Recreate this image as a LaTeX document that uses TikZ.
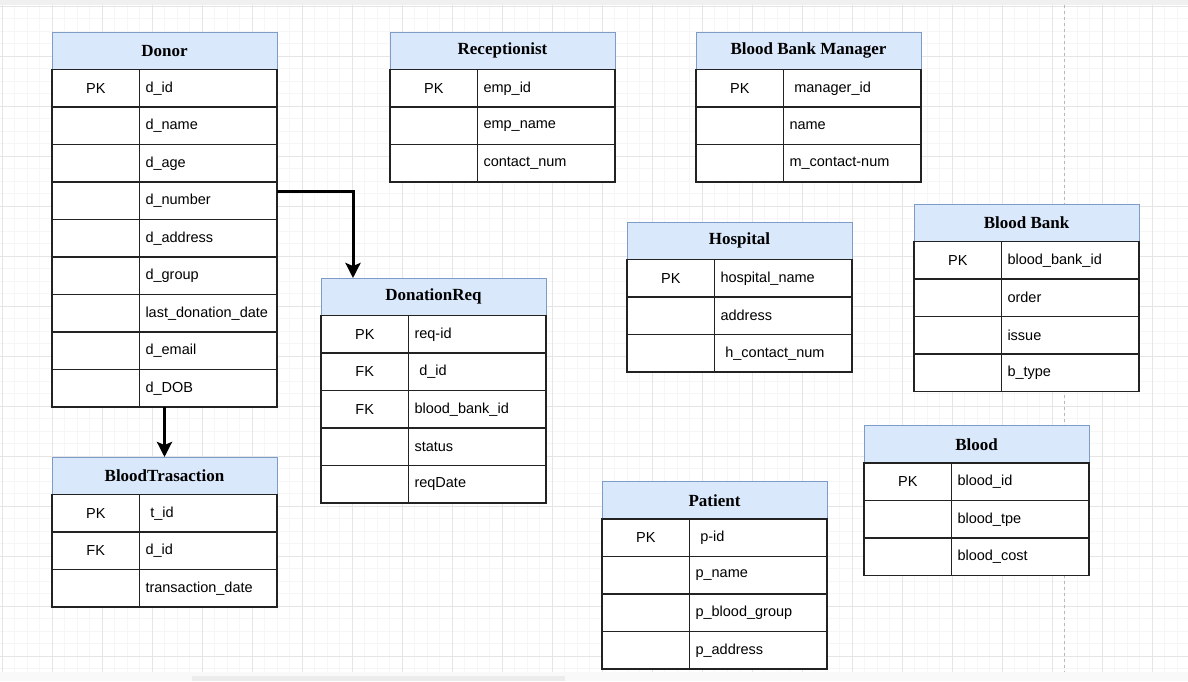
\documentclass[tikz,border=0pt]{standalone}
\usepackage{fontspec}
\setmainfont{Liberation Sans}
\newfontfamily\hdrfont{Liberation Serif}
\usetikzlibrary{arrows.meta}

\definecolor{hdrblue}{HTML}{DAE8FC}
\definecolor{hdrline}{HTML}{7F9CC8}
\definecolor{cellline}{HTML}{222222}

\tikzset{every picture/.style={line width=0.75pt}}
\tikzset{
  hdrcell/.style={draw=hdrline, fill=hdrblue, line width=1pt, anchor=north west, outer sep=0pt, inner sep=0pt,
    minimum width=225pt, minimum height=37.5pt, font=\hdrfont\bfseries\fontsize{17}{20}\selectfont},
  keycell/.style={draw=cellline, fill=white, line width=1.5pt, anchor=north west, outer sep=0pt, inner sep=0pt,
    minimum width=87.5pt, minimum height=37.5pt, font=\fontsize{14.5}{17}\selectfont},
  fieldcell/.style={draw=cellline, fill=white, line width=1.5pt, anchor=north west, outer sep=0pt, inner ysep=0pt,
    inner xsep=6pt, text width=125.5pt, align=left, minimum height=37.5pt, font=\fontsize{14.5}{17}\selectfont},
  gridminor/.style={draw=gray!7, line width=0.6pt},
  gridmajor/.style={draw=gray!20, line width=0.8pt},
  pagebreak/.style={draw=gray!55, line width=1pt, dash pattern=on 3pt off 3pt},
  fkarrow/.style={draw=black, line width=3pt, -{Stealth[length=15pt,width=15pt,inset=3pt]}}
}

% table: name, left, top, title, key/field rows
\newcommand{\ertable}[5]{%
  \node[hdrcell] (#1) at (#2,#3) {#4};
  \foreach [count=\i] \k/\f in {#5} {
    \node[keycell] (#1-k\i) at ({#2},{#3+37.5*\i}) {\k};
    \node[fieldcell] (#1-f\i) at (#1-k\i.north east) {\f};
  }
}

\begin{document}
\begin{tikzpicture}[x=1pt,y=1pt,yscale=-1,xscale=1]
\useasboundingbox (0,0) rectangle (1188,681);

% canvas and grid
\fill[white] (0,0) rectangle (1188,681);
\fill[gray!12] (0,0) rectangle (1188,5);
\foreach \gx in {2,14.5,...,1188} \draw[gridminor] (\gx,5) -- (\gx,672);
\foreach \gy in {6,18.5,...,672} \draw[gridminor] (0,\gy) -- (1188,\gy);
\foreach \gx in {2,52,...,1188} \draw[gridmajor] (\gx,5) -- (\gx,672);
\foreach \gy in {6,56,...,672} \draw[gridmajor] (0,\gy) -- (1188,\gy);
\draw[pagebreak] (1064,5) -- (1064,672);
\fill[gray!5] (0,672) rectangle (1188,681);
\fill[gray!15] (192,676) rectangle (565,681);

%Table: Donor
\ertable{donor}{52}{32}{Donor}{PK/d\_id, /d\_name, /d\_age, /d\_number, /d\_address, /d\_group,
  /last\_donation\_date, /d\_email, /d\_DOB}
%Table: Receptionist
\ertable{recep}{390}{32}{Receptionist}{PK/emp\_id, /emp\_name, /contact\_num}
%Table: Blood Bank Manager
\ertable{bbmgr}{696}{32}{Blood Bank Manager}{PK/\ manager\_id, /name, /m\_contact-num}
%Table: Hospital
\ertable{hosp}{627}{222}{Hospital}{PK/hospital\_name, /address, /\ h\_contact\_num}
%Table: Blood Bank
\ertable{bbank}{914}{204}{Blood Bank}{PK/blood\_bank\_id, /order, /issue, /b\_type}
%Table: DonationReq
\ertable{dreq}{321}{278}{DonationReq}{PK/req-id, FK/\ d\_id, FK/blood\_bank\_id, /status, /reqDate}
%Table: Blood
\ertable{blood}{864}{425.5}{Blood}{PK/blood\_id, /blood\_tpe, /blood\_cost}
%Table: BloodTrasaction
\ertable{btrans}{52}{457}{BloodTrasaction}{PK/\ t\_id, FK/d\_id, /transaction\_date}
%Table: Patient
\ertable{patient}{602}{481.5}{Patient}{PK/\ p-id, /p\_name, /p\_blood\_group, /p\_address}

% Connectors
\draw[fkarrow] ([yshift=9pt]donor-f4.north east) -| ([xshift=32pt]dreq.north west);
\draw[fkarrow] (donor-k9.south -| donor.south) -- (btrans.north);

\end{tikzpicture}
\end{document}
